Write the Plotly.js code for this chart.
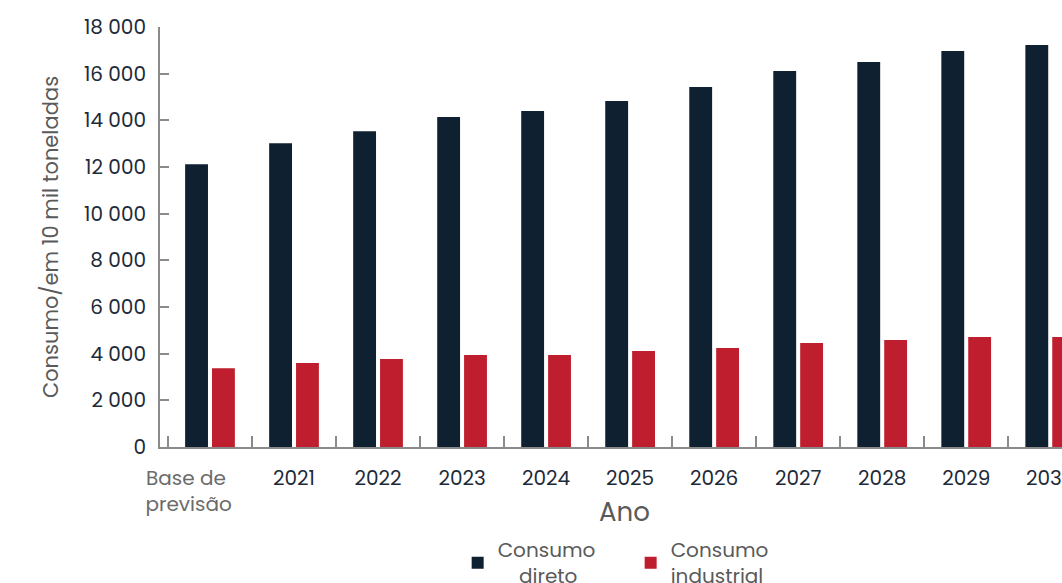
<!DOCTYPE html>
<html>
<head>
<meta charset="utf-8">
<script src="https://cdn.plot.ly/plotly-3.0.1.min.js"></script>
<style>html,body{margin:0;padding:0;background:#fff;}#chart{width:1062px;height:583px;}</style>
</head>
<body>
<div id="chart"></div>
<script>
const categories = ['Base de previsão', '2021', '2022', '2023', '2024', '2025', '2026', '2027', '2028', '2029', '2030'];
const tickLabels = ['<span style="color:#6b6b6b">Base de&nbsp;&nbsp;&nbsp;&nbsp;&nbsp;&nbsp;&nbsp;&nbsp;&nbsp;<br>previsão&nbsp;&nbsp;&nbsp;&nbsp;&nbsp;&nbsp;&nbsp;&nbsp;</span>', '2021', '2022', '2023', '2024', '2025', '2026', '2027', '2028', '2029', '2030'];
const consumoDireto = [12120, 13020, 13530, 14140, 14400, 14830, 15430, 16110, 16500, 16970, 17230];
const consumoIndustrial = [3370, 3600, 3770, 3940, 3940, 4110, 4240, 4460, 4590, 4710, 4710];
const seriesNames = ['Consumo<br>&nbsp;&nbsp;&nbsp;&nbsp;direto', 'Consumo<br>industrial'];
const xTitle = 'Ano';
const yTitle = 'Consumo/em 10 mil toneladas';

const font = 'Poppins, "Open Sans", Lato, sans-serif';

const traces = [
  {type: 'bar', x: categories, y: consumoDireto, name: seriesNames[0],
   marker: {color: '#0f2131', line: {width: 0}}},
  {type: 'bar', x: categories, y: consumoIndustrial, name: seriesNames[1],
   marker: {color: '#be1e2d', line: {width: 0}}}
];

const layout = {
  width: 1062, height: 583,
  margin: {l: 160, r: 0, t: 27, b: 136, autoexpand: false},
  paper_bgcolor: '#fff', plot_bgcolor: '#fff',
  separators: ', ',
  font: {family: font, size: 20, color: '#1d2a38'},
  barmode: 'group', bargap: 0.36, bargroupgap: 0.15,
  showlegend: true,
  legend: {orientation: 'h', x: 0.33, xanchor: 'left', y: -0.198, yanchor: 'top',
           font: {family: font, size: 20, color: '#5a5a5a'}, itemwidth: 30, tracegroupgap: 0,
           entrywidth: 128, entrywidthmode: 'pixels'},
  xaxis: {
    type: 'category', categoryorder: 'array', categoryarray: categories,
    tickvals: categories, ticktext: tickLabels, tickangle: 0,
    range: [-0.595, 10.14],
    showline: true, linecolor: '#8a8a8a', linewidth: 2,
    ticks: 'inside', tickson: 'boundaries', ticklen: 11, tickwidth: 2, tickcolor: '#8a8a8a',
    ticklabelstandoff: 12,
    showgrid: false, zeroline: false,
    tickfont: {family: font, size: 20, color: '#1d2a38'}
  },
  yaxis: {
    range: [0, 18000], dtick: 2000, tickformat: ',d',
    showline: true, linecolor: '#8a8a8a', linewidth: 2,
    ticks: 'inside', ticklen: 9, tickwidth: 2, tickcolor: '#8a8a8a',
    ticklabelstandoff: 8,
    showgrid: false, zeroline: false,
    tickfont: {family: font, size: 20, color: '#1d2a38'},
    title: {text: yTitle, font: {family: font, size: 21, color: '#5a5a5a'}, standoff: 20}
  },
  annotations: [
    {text: xTitle, xref: 'paper', yref: 'paper', x: 0.515, y: -0.155, xanchor: 'center', yanchor: 'middle',
     showarrow: false, font: {family: font, size: 26, color: '#5a5a5a'}}
  ]
};

Plotly.newPlot('chart', traces, layout, {displayModeBar: false, staticPlot: true});
</script>
</body>
</html>
